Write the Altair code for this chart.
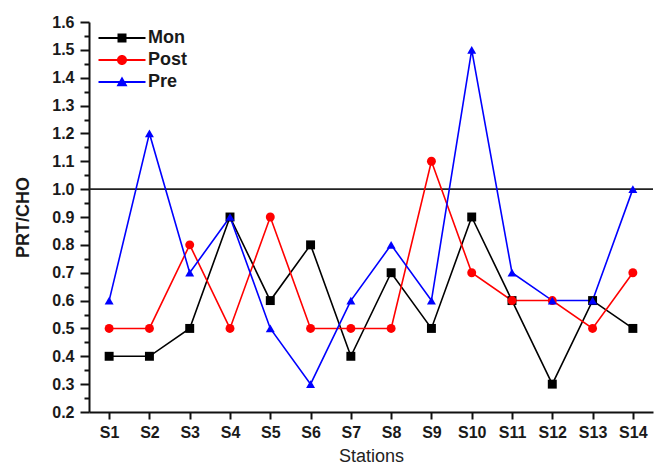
import altair as alt
import pandas as pd

stations = ["S1", "S2", "S3", "S4", "S5", "S6", "S7", "S8", "S9", "S10", "S11", "S12", "S13", "S14"]
mon = [0.4, 0.4, 0.5, 0.9, 0.6, 0.8, 0.4, 0.7, 0.5, 0.9, 0.6, 0.3, 0.6, 0.5]
post = [0.5, 0.5, 0.8, 0.5, 0.9, 0.5, 0.5, 0.5, 1.1, 0.7, 0.6, 0.6, 0.5, 0.7]
pre = [0.6, 1.2, 0.7, 0.9, 0.5, 0.3, 0.6, 0.8, 0.6, 1.5, 0.7, 0.6, 0.6, 1.0]
series_names = ["Mon", "Post", "Pre"]
colors = ["#000000", "#FF0000", "#0000FF"]
marker_shapes = ["square", "circle", "triangle-up"]
major_ticks = [0.2, 0.3, 0.4, 0.5, 0.6, 0.7, 0.8, 0.9, 1.0, 1.1, 1.2, 1.3, 1.4, 1.5, 1.6]
ref_value = 1.0

# legend symbols: line segment + marker (custom SVG paths in unit coordinates)
line_seg = "M-2.35,-0.09H2.35V0.09H-2.35Z"
legend_shapes = [
    line_seg + "M-0.45,-0.45H0.45V0.45H-0.45Z",
    line_seg + "M-0.5,0A0.5,0.5 0 1,1 0.5,0A0.5,0.5 0 1,1 -0.5,0Z",
    line_seg + "M0,-0.55L0.55,0.42L-0.55,0.42Z",
]

rows = []
for name, vals in zip(series_names, [mon, post, pre]):
    for s, v in zip(stations, vals):
        rows.append({"station": s, "value": v, "series": name})
df = pd.DataFrame(rows)

all_ticks = sorted(set(major_ticks + [round(t + 0.05, 2) for t in major_ticks[:-1]]))

x_enc = alt.X(
    "station:N",
    sort=stations,
    scale=alt.Scale(type="point", padding=0.5),
    axis=alt.Axis(
        title="Stations",
        labelAngle=0,
        labelFont="Liberation Sans",
        labelFontSize=16,
        labelFontWeight="bold",
        labelColor="#1a1a1a",
        labelPadding=5,
        tickSize=7,
        titleFont="Liberation Sans",
        titleFontSize=18,
        titleFontWeight="normal",
        titleColor="#222222",
        titlePadding=7,
    ),
)

y_axis = alt.Axis(
    title="PRT/CHO",
    values=all_ticks,
    labelExpr="abs(datum.value*10 - round(datum.value*10)) < 0.001 ? format(datum.value, '.1f') : ''",
    labelOverlap=False,
    labelFont="Liberation Sans",
    labelFontSize=16,
    labelFontWeight="bold",
    labelColor="#1a1a1a",
    labelPadding=6,
    tickSize={"condition": {"test": "abs(datum.value*10 - round(datum.value*10)) < 0.001", "value": 9}, "value": 5},
    grid=False,
    titleFont="Liberation Sans",
    titleFontSize=18,
    titleFontWeight="bold",
    titleColor="#1a1a1a",
    titlePadding=19,
)
y_scale = alt.Scale(domain=[0.2, 1.6], zero=False, nice=False)
y_enc = alt.Y("value:Q", scale=y_scale, axis=y_axis)

base = alt.Chart(df)

lines = base.mark_line(strokeWidth=1.6).encode(
    x=x_enc,
    y=y_enc,
    color=alt.Color("series:N", scale=alt.Scale(domain=series_names, range=colors), legend=None),
)

points = base.mark_point(filled=True, size=80, opacity=1).encode(
    x=x_enc,
    y=y_enc,
    color=alt.Color("series:N", scale=alt.Scale(domain=series_names, range=colors), legend=None),
    shape=alt.Shape("series:N", scale=alt.Scale(domain=series_names, range=marker_shapes), legend=None),
)

ref = alt.Chart(pd.DataFrame({"value": [ref_value]})).mark_rule(color="#222222", strokeWidth=1.6).encode(
    y=y_enc
)

legend_props = dict(
    title=None,
    orient="none",
    legendX=23,
    legendY=6,
    symbolSize=400,
    symbolStrokeWidth=0,
    labelFont="Liberation Sans",
    labelFontSize=18,
    labelFontWeight="bold",
    labelColor="#1a1a1a",
    labelOffset=16,
    rowPadding=3,
    padding=0,
)

legend_layer = base.transform_filter("false").mark_point(filled=True, size=400, opacity=1).encode(
    x=x_enc,
    y=y_enc,
    color=alt.Color(
        "series:N",
        scale=alt.Scale(domain=series_names, range=colors),
        legend=alt.Legend(**legend_props),
    ),
    shape=alt.Shape(
        "series:N",
        scale=alt.Scale(domain=series_names, range=legend_shapes),
        legend=alt.Legend(**legend_props),
    ),
)

chart = (
    alt.layer(ref, lines, points, legend_layer)
    .resolve_scale(color="independent", shape="independent")
    .properties(
        width=564,
        height=390,
        autosize=alt.AutoSizeParams(type="none"),
        padding={"left": 89, "top": 22, "right": 5, "bottom": 53},
        background="white",
    )
    .configure_view(stroke=None)
    .configure_axis(
        domainColor="#111111",
        domainWidth=2,
        tickColor="#111111",
        tickWidth=2,
    )
)

chart.save("out.html", embed_options={"renderer": "svg", "actions": False})
